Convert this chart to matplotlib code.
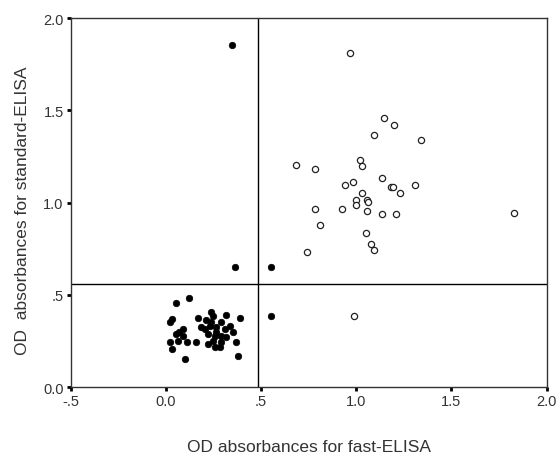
import matplotlib
matplotlib.use("Agg")
import matplotlib.pyplot as plt
from matplotlib.ticker import FixedLocator, FixedFormatter

# Negative (standard-ELISA below cut-off) / filled points
neg_x = [0.121, 0.056, 0.030, 0.021, 0.170, 0.240, 0.249, 0.315, 0.389,
         0.091, 0.070, 0.056, 0.187, 0.205, 0.231, 0.266, 0.310, 0.354,
         0.222, 0.257, 0.292, 0.021, 0.065, 0.109, 0.161, 0.249, 0.292,
         0.371, 0.257, 0.284, 0.030, 0.100, 0.380, 0.213, 0.240, 0.266,
         0.318, 0.222, 0.091, 0.292, 0.336,
         0.362, 0.551, 0.551, 0.347]
neg_y = [0.485, 0.454, 0.369, 0.354, 0.374, 0.405, 0.387, 0.392, 0.372,
         0.315, 0.297, 0.288, 0.324, 0.315, 0.333, 0.324, 0.315, 0.297,
         0.288, 0.278, 0.278, 0.242, 0.251, 0.242, 0.242, 0.251, 0.242,
         0.242, 0.215, 0.215, 0.206, 0.152, 0.170, 0.361, 0.351, 0.297,
         0.269, 0.233, 0.278, 0.351, 0.333,
         0.651, 0.651, 0.385, 1.856]

# Positive / open points
pos_x = [0.970, 1.146, 1.199, 1.094, 1.339, 0.683, 0.783, 1.021, 1.029,
         1.138, 0.942, 0.981, 1.185, 1.194, 1.229, 1.308, 1.028, 1.001,
         1.059, 1.064, 0.998, 1.059, 0.783, 0.923, 1.138, 1.208, 0.812,
         1.052, 1.078, 1.094, 0.742, 1.830, 0.987]
pos_y = [1.810, 1.458, 1.423, 1.369, 1.342, 1.205, 1.183, 1.232, 1.196,
         1.136, 1.094, 1.111, 1.083, 1.083, 1.052, 1.096, 1.054, 1.015,
         1.015, 1.005, 0.985, 0.955, 0.967, 0.967, 0.937, 0.937, 0.877,
         0.834, 0.776, 0.741, 0.732, 0.942, 0.385]

cut_x = 0.483
cut_y = 0.559

x_ticks = [-0.5, 0.0, 0.5, 1.0, 1.5, 2.0]
x_labels = ["-.5", "0.0", ".5", "1.0", "1.5", "2.0"]
y_ticks = [0.0, 0.5, 1.0, 1.5, 2.0]
y_labels = ["0.0", ".5", "1.0", "1.5", "2.0"]

plt.rcParams['font.family'] = ['Liberation Sans', 'DejaVu Sans']

fig = plt.figure(figsize=(5.56, 4.56), dpi=100)
ax = fig.add_axes([0.127, 0.149, 0.856, 0.809])

ax.scatter(neg_x, neg_y, s=22, c='black', edgecolors='black', linewidths=0.5, zorder=3)
ax.scatter(pos_x, pos_y, s=20, facecolors='white', edgecolors='#222222', linewidths=0.9, zorder=3)

ax.axvline(cut_x, color='black', lw=1.0, zorder=2)
ax.axhline(cut_y, color='black', lw=1.0, zorder=2)

ax.set_xlim(-0.5, 2.0)
ax.set_ylim(0.0, 2.0)
ax.xaxis.set_major_locator(FixedLocator(x_ticks))
ax.xaxis.set_major_formatter(FixedFormatter(x_labels))
ax.yaxis.set_major_locator(FixedLocator(y_ticks))
ax.yaxis.set_major_formatter(FixedFormatter(y_labels))

for sp in ax.spines.values():
    sp.set_color('#333333')
    sp.set_linewidth(1.0)

ax.tick_params(axis='both', direction='out', length=3, width=2, color='black',
               labelsize=10.5, labelcolor='#333333', pad=2)

ax.set_xlabel("OD absorbances for fast-ELISA", fontsize=12.5, color='#333333')
ax.xaxis.set_label_coords(0.5, -0.16)
ax.xaxis.label.set_verticalalignment('center')
ax.set_ylabel("OD  absorbances for standard-ELISA", fontsize=12.5, color='#333333')
ax.yaxis.set_label_coords(-0.085, 0.48)

fig.savefig("out.png", dpi=100)
